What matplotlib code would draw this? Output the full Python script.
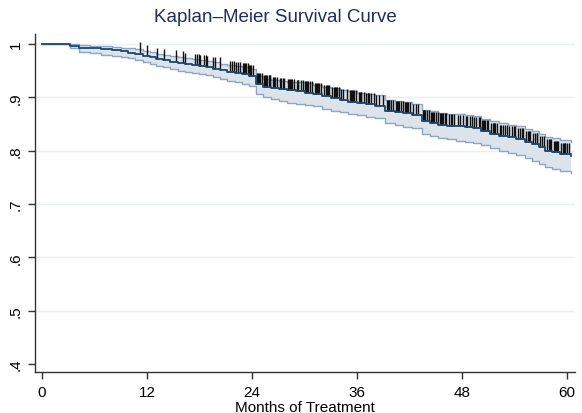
import numpy as np
import matplotlib
matplotlib.use("Agg")
import matplotlib.pyplot as plt

plt.rcParams['font.family'] = ['Liberation Sans', 'DejaVu Sans']

# step times (months) and KM estimate with 95% CI
t_step = [0, 3.2, 4.2, 5.5, 6.8, 8.0, 9.0, 9.8, 10.6, 11.5, 12.3, 13.0, 13.8, 14.6,
          15.5, 16.4, 17.2, 18.0, 18.8, 19.6, 20.4, 21.2, 22.0, 22.8, 23.6, 24.4,
          25.3, 26.2, 27.1, 28.0, 29.0, 30.0, 31.0, 32.0, 33.0, 34.0, 35.0, 36.0,
          37.0, 38.0, 39.2, 40.3, 41.3, 42.3, 43.4, 44.3, 45.3, 46.3, 47.3, 48.3,
          49.3, 50.2, 51.2, 52.2, 53.2, 54.2, 55.2, 56.0, 56.8, 57.5, 58.3, 59.2, 60.4]
surv = [1.0, 0.997, 0.993, 0.992, 0.990, 0.988, 0.986, 0.984, 0.982, 0.978, 0.975,
        0.972, 0.970, 0.967, 0.965, 0.963, 0.961, 0.959, 0.957, 0.954, 0.951, 0.948,
        0.946, 0.943, 0.940, 0.925, 0.920, 0.918, 0.915, 0.913, 0.911, 0.909, 0.906,
        0.902, 0.898, 0.895, 0.892, 0.889, 0.887, 0.884, 0.874, 0.872, 0.870, 0.867,
        0.856, 0.852, 0.849, 0.847, 0.846, 0.844, 0.842, 0.837, 0.831, 0.828, 0.825,
        0.822, 0.816, 0.812, 0.806, 0.800, 0.797, 0.793, 0.790]
lower = [1.0, 0.992, 0.985, 0.983, 0.980, 0.977, 0.975, 0.973, 0.970, 0.966, 0.962,
         0.959, 0.956, 0.953, 0.950, 0.948, 0.945, 0.943, 0.941, 0.938, 0.934, 0.931,
         0.928, 0.925, 0.922, 0.906, 0.900, 0.897, 0.893, 0.890, 0.887, 0.885, 0.883,
         0.879, 0.875, 0.872, 0.869, 0.866, 0.864, 0.861, 0.851, 0.848, 0.845, 0.842,
         0.832, 0.827, 0.823, 0.821, 0.819, 0.817, 0.815, 0.810, 0.805, 0.800, 0.796,
         0.792, 0.786, 0.781, 0.775, 0.770, 0.766, 0.762, 0.759]
upper = [1.0, 1.0, 0.998, 0.997, 0.996, 0.995, 0.993, 0.992, 0.990, 0.987, 0.985,
         0.982, 0.980, 0.978, 0.976, 0.974, 0.972, 0.970, 0.968, 0.966, 0.963, 0.961,
         0.959, 0.956, 0.954, 0.940, 0.935, 0.933, 0.931, 0.929, 0.928, 0.926, 0.924,
         0.920, 0.917, 0.914, 0.912, 0.909, 0.907, 0.904, 0.895, 0.893, 0.891, 0.888,
         0.877, 0.874, 0.871, 0.869, 0.868, 0.866, 0.865, 0.860, 0.855, 0.852, 0.849,
         0.846, 0.841, 0.837, 0.832, 0.826, 0.823, 0.820, 0.816]

# censoring times (tick marks)
censored = [11.2, 12.0, 13.2, 13.9, 15.3, 16.1, 16.4, 17.5, 17.7, 17.9, 18.1, 18.5,
            18.7, 18.9, 19.6, 19.8, 20.3, 21.5, 21.7, 21.9, 22.2, 22.4, 22.6, 23.0,
            23.1, 23.2, 23.3, 23.5, 23.7, 23.8, 23.9, 24.1, 24.6, 24.7, 24.8, 24.9,
            25.1, 25.4, 25.5, 25.6, 25.7, 25.9, 26.0, 26.1, 26.4, 26.5, 26.6, 26.8,
            27.2, 27.3, 27.5, 27.7, 28.1, 28.2, 28.3, 28.4, 28.6, 28.8, 29.1, 29.2,
            29.3, 29.6, 29.8, 30.1, 30.2, 30.3, 30.4, 30.6, 30.9, 31.2, 31.3, 31.4,
            31.5, 31.7, 31.9, 32.2, 32.5, 32.6, 32.7, 32.8, 33.1, 33.4, 33.5, 33.6,
            33.7, 33.9, 34.2, 34.4, 34.8, 35.2, 35.3, 35.4, 35.5, 35.7, 35.9, 36.2,
            36.3, 36.4, 36.5, 36.8, 37.0, 37.2, 37.3, 37.4, 37.6, 37.9, 38.2, 38.5,
            39.0, 39.4, 39.5, 39.6, 39.7, 39.9, 40.1, 40.5, 40.6, 40.7, 40.8, 41.0,
            41.2, 41.5, 41.6, 41.7, 41.8, 42.0, 42.4, 42.7, 43.0, 43.5, 43.6, 43.7,
            43.8, 44.0, 44.2, 44.5, 44.6, 44.7, 44.8, 45.0, 45.2, 45.5, 45.6, 45.7,
            45.8, 46.0, 46.2, 46.5, 46.7, 46.9, 47.1, 47.5, 47.8, 48.1, 48.4, 48.6,
            48.9, 49.1, 49.4, 49.6, 49.9, 50.1, 50.3, 50.4, 50.5, 50.6, 50.8, 51.0,
            51.3, 51.5, 51.6, 51.7, 51.8, 52.0, 52.3, 52.5, 52.7, 52.9, 53.1, 53.4,
            53.7, 53.9, 54.1, 54.4, 54.6, 54.8, 55.0, 55.3, 55.5, 55.6, 55.8, 56.1,
            56.3, 56.5, 56.6, 56.9, 57.1, 57.4, 57.7, 57.9, 58.0, 58.2, 58.5, 58.6,
            58.7, 58.8, 59.0, 59.3, 59.5, 59.6, 59.7, 59.8, 60.0, 60.2]

yticks = [0.4, 0.5, 0.6, 0.7, 0.8, 0.9, 1.0]
ytick_labels = ['.4', '.5', '.6', '.7', '.8', '.9', '1']
xticks = [0, 12, 24, 36, 48, 60]

navy = '#1a476f'
fig = plt.figure(figsize=(5.82, 4.14), dpi=100)
ax = fig.add_axes([0.060, 0.099, 0.928, 0.8165])

for y in yticks[1:]:
    ax.axhline(y, color='#e8f0f3', lw=1, zorder=0)

ax.fill_between(t_step, lower, upper, step='post', color='#dde3eb', lw=0, zorder=1)
ax.step(t_step, lower, where='post', color='#8ea6c4', lw=1, zorder=2)
ax.step(t_step, upper, where='post', color='#8ea6c4', lw=1, zorder=2)
ax.step(t_step, surv, where='post', color=navy, lw=1.3, zorder=4)

# censoring ticks sit on the curve
idx = np.searchsorted(t_step, censored, side='right') - 1
s_at = np.array(surv)[idx]
ax.vlines(censored, s_at, s_at + 0.021, color='#111111', lw=1.0, zorder=3)

ax.set_xlim(-0.8, 60.9)
ax.set_ylim(0.385, 1.0188)
ax.set_xticks(xticks)
ax.set_yticks(yticks)
ax.set_yticklabels(ytick_labels, rotation=90, va='center')
ax.tick_params(axis='both', length=5, width=1, color='#333333', labelsize=11,
               labelcolor='black')
ax.tick_params(axis='x', pad=4)
ax.tick_params(axis='y', pad=4)
for s in ['top', 'right']:
    ax.spines[s].set_visible(False)
for s in ['left', 'bottom']:
    ax.spines[s].set_color('#333333')
    ax.spines[s].set_linewidth(1)

ax.set_xlabel('Months of Treatment', fontsize=11, labelpad=1)
fig.text(0.473, 0.957, 'Kaplan\u2013Meier Survival Curve', ha='center', va='center',
         fontsize=13.5, color='#1e2f5e')

fig.savefig('out.png', dpi=100)
